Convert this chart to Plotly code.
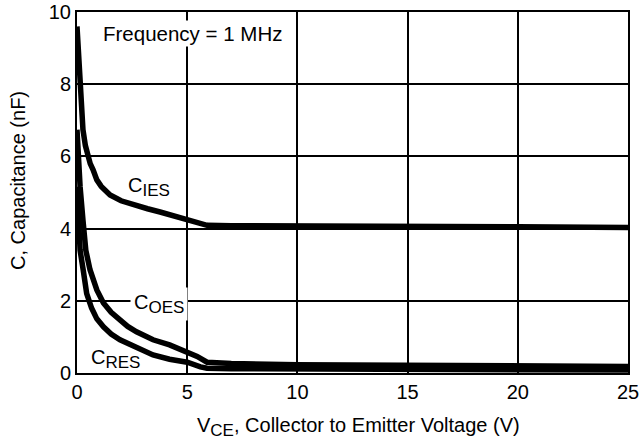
import plotly.graph_objects as go

# Data
v_ies = [0, 0.03, 0.08, 0.14, 0.2, 0.27, 0.38, 0.5, 0.6, 0.73, 0.9, 1.1, 1.5, 2.0, 2.6, 3.2, 3.77, 4.5, 5.0, 5.5, 5.9, 7, 10, 15, 20, 25]
c_ies = [9.6, 9.2, 8.6, 8.0, 7.3, 6.74, 6.3, 6.0, 5.8, 5.63, 5.35, 5.17, 4.93, 4.77, 4.64, 4.55, 4.46, 4.34, 4.26, 4.17, 4.09, 4.08, 4.08, 4.07, 4.05, 4.03]

v_oes = [0, 0.05, 0.14, 0.27, 0.4, 0.59, 0.9, 1.2, 1.55, 1.95, 2.3, 2.7, 3.1, 3.45, 4.2, 5.0, 5.45, 5.9, 7, 10, 15, 20, 25]
c_oes = [6.74, 5.9, 5.16, 4.24, 3.4, 2.86, 2.3, 1.94, 1.68, 1.47, 1.29, 1.14, 1.02, 0.92, 0.78, 0.6, 0.46, 0.3, 0.26, 0.23, 0.21, 0.19, 0.18]

v_res = [0, 0.05, 0.14, 0.28, 0.44, 0.66, 0.9, 1.2, 1.55, 1.95, 2.7, 3.45, 4.2, 5.0, 5.6, 5.9, 7, 10, 15, 20, 25]
c_res = [5.16, 4.3, 3.4, 2.86, 2.2, 1.8, 1.5, 1.28, 1.08, 0.92, 0.69, 0.5, 0.38, 0.3, 0.17, 0.13, 0.12, 0.11, 0.1, 0.09, 0.08]

x_ticks = [0, 5, 10, 15, 20, 25]
y_ticks = [0, 2, 4, 6, 8, 10]

x_title = "V<sub><span style='font-size:17px'>CE</span></sub>, Collector to Emitter Voltage (V)"
y_title = "C, Capacitance (nF)"

FONT = "Liberation Sans, Arial, Helvetica, sans-serif"
FS = 20
SUB = "<sub><span style='font-size:17px'>{}</span></sub>"

fig = go.Figure()
for vx, cy, name in [(v_ies, c_ies, "CIES"), (v_oes, c_oes, "COES"), (v_res, c_res, "CRES")]:
    fig.add_trace(go.Scatter(x=vx, y=cy, mode="lines", name=name,
                             line=dict(color="black", width=5.5),
                             showlegend=False))

axis_common = dict(showgrid=True, gridcolor="black", gridwidth=2, automargin=False,
                   showline=True, linecolor="black", linewidth=2, mirror=True,
                   zeroline=False, ticks="", ticklabeloverflow="allow",
                   tickfont=dict(size=FS, color="black", family=FONT))

fig.update_xaxes(range=[0, 25], tickvals=x_ticks, ticktext=[str(t) for t in x_ticks],
                 **axis_common)
fig.update_yaxes(range=[0, 10], tickvals=y_ticks, ticktext=[str(t) for t in y_ticks],
                 **axis_common)

title_font = dict(size=FS, color="black", family=FONT)
fig.add_annotation(xref="paper", yref="paper", x=0.51, y=0, yshift=-54, text=x_title,
                   showarrow=False, xanchor="center", yanchor="middle", font=title_font)
fig.add_annotation(xref="paper", yref="paper", x=0, y=0.532, xshift=-59, text=y_title,
                   showarrow=False, xanchor="center", yanchor="middle", textangle=-90,
                   font=title_font)

ann_font = dict(size=FS, color="black", family=FONT)
fig.add_annotation(x=1.1, y=9.4, text="Frequency = 1 MHz", showarrow=False,
                   xanchor="left", yanchor="middle", font=dict(size=20.5, color="black", family=FONT),
                   bgcolor="white")
fig.add_annotation(x=3.25, y=5.15, text="C" + SUB.format("IES"), showarrow=False,
                   font=ann_font)
fig.add_annotation(x=3.7, y=1.9, text="C" + SUB.format("OES"), showarrow=False,
                   font=ann_font, bgcolor="white", borderpad=3)
fig.add_annotation(x=1.75, y=0.38, text="C" + SUB.format("RES"), showarrow=False,
                   font=ann_font)

fig.update_layout(width=643, height=443, margin=dict(l=77, r=15, t=12, b=70),
                  plot_bgcolor="white", paper_bgcolor="white",
                  font=dict(family=FONT, color="black"))

# remove the default page margin so the figure sits at the window's top-left corner
fig.write_html("out.html", config={"displayModeBar": False},
               post_script="document.body.style.margin='0';document.body.style.padding='0';")
